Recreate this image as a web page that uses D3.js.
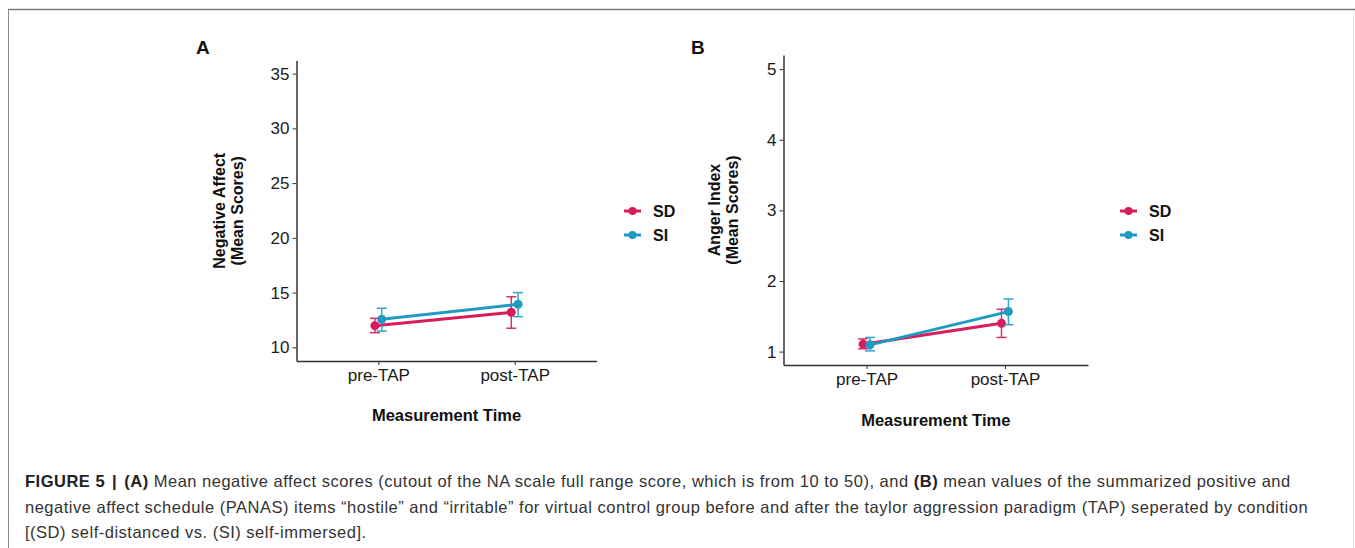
<!DOCTYPE html>
<html>
<head>
<meta charset="utf-8">
<script src="https://cdn.jsdelivr.net/npm/d3@7"></script>
<style>
  body { margin: 0; background: #fff; }
  svg { font-family: "Liberation Sans", Arial, sans-serif; }
  .axis path, .axis line { stroke: #333; }
  .axis text { fill: #1a1a1a; font-size: 17px; }
</style>
</head>
<body>
<svg id="fig" width="1355" height="548"></svg>
<script>
// categories
var timePoints = ["pre-TAP", "post-TAP"];
var conditions = ["SD", "SI"];

// Panel A: negative affect (mean, lower, upper)
var naMeanSD = [11.98, 13.2];
var naLowSD = [11.34, 11.74];
var naHighSD = [12.65, 14.62];
var naMeanSI = [12.56, 13.93];
var naLowSI = [11.49, 12.8];
var naHighSI = [13.57, 15.0];
var naTicks = [10, 15, 20, 25, 30, 35];

// Panel B: anger index (mean, lower, upper)
var angerMeanSD = [1.105, 1.40];
var angerLowSD = [1.04, 1.20];
var angerHighSD = [1.18, 1.60];
var angerMeanSI = [1.095, 1.566];
var angerLowSI = [1.01, 1.38];
var angerHighSI = [1.20, 1.745];
var angerTicks = [1, 2, 3, 4, 5];

var colors = {SD: "#d81b5d", SI: "#1e9bc0"};

var svg = d3.select("#fig");

// figure frame
svg.append("line").attr("x1", 8).attr("x2", 1355).attr("y1", 9.5).attr("y2", 9.5)
    .attr("stroke", "#7a7a7a").attr("stroke-width", 1.5);
svg.append("line").attr("x1", 8.5).attr("x2", 8.5).attr("y1", 9).attr("y2", 548)
    .attr("stroke", "#8a8a8a").attr("stroke-width", 1);
svg.append("line").attr("x1", 1353.5).attr("x2", 1353.5).attr("y1", 10).attr("y2", 548)
    .attr("stroke", "#e2e2e2").attr("stroke-width", 1);

function drawPanel(p) {
    var g = svg.append("g");

    var x = d3.scalePoint().domain(timePoints).range([p.left, p.right]).padding(0.6);
    var y = d3.scaleLinear().domain(p.domain).range([p.bottom, p.top]);
    var dodge = x.step() * 0.025;

    g.append("g").attr("class", "axis")
        .attr("transform", "translate(" + p.left + ",0)")
        .call(d3.axisLeft(y).tickValues(p.ticks).tickFormat(d3.format("d"))
            .tickSize(4).tickSizeOuter(0).tickPadding(3))
        .selectAll("path").attr("stroke-width", 1.5);

    g.append("g").attr("class", "axis")
        .attr("transform", "translate(0," + p.bottom + ")")
        .call(d3.axisBottom(x).tickSize(4).tickSizeOuter(0).tickPadding(4))
        .selectAll("path").attr("stroke-width", 1.5);

    g.selectAll(".axis line").attr("stroke", "#444");

    // axis titles
    g.append("text")
        .attr("x", (p.left + p.right) / 2).attr("y", p.xTitleY)
        .attr("text-anchor", "middle").attr("font-size", 16.5).attr("font-weight", "bold")
        .attr("fill", "#111").text("Measurement Time");

    var yt = g.append("text")
        .attr("transform", "translate(" + p.yTitleX + "," + ((p.top + p.bottom) / 2) + ") rotate(-90)")
        .attr("text-anchor", "middle").attr("font-size", 16).attr("font-weight", "bold").attr("fill", "#111");
    yt.append("tspan").attr("x", 0).attr("dy", 0).text(p.yTitle);
    yt.append("tspan").attr("x", 0).attr("dy", 17.5).text("(Mean Scores)");

    // panel letter
    g.append("text").attr("x", p.letterX).attr("y", 54)
        .attr("font-size", 19).attr("font-weight", "bold").attr("fill", "#111").text(p.letter);

    p.series.forEach(function(s, k) {
        var off = k === 0 ? -dodge : dodge;
        var pts = timePoints.map(function(t, i) {
            return {x: x(t) + off, m: s.mean[i], lo: s.low[i], hi: s.high[i]};
        });
        var col = colors[s.name];

        g.append("path").datum(pts)
            .attr("fill", "none").attr("stroke", col).attr("stroke-width", 3)
            .attr("d", d3.line().x(function(d){ return d.x; }).y(function(d){ return y(d.m); }));

        var eb = g.selectAll(null).data(pts).enter().append("g")
            .attr("stroke", col).attr("stroke-width", 1.5).attr("opacity", 0.9);
        eb.append("line").attr("x1", function(d){ return d.x; }).attr("x2", function(d){ return d.x; })
            .attr("y1", function(d){ return y(d.lo); }).attr("y2", function(d){ return y(d.hi); });
        eb.append("line").attr("x1", function(d){ return d.x - 5; }).attr("x2", function(d){ return d.x + 5; })
            .attr("y1", function(d){ return y(d.lo); }).attr("y2", function(d){ return y(d.lo); });
        eb.append("line").attr("x1", function(d){ return d.x - 5; }).attr("x2", function(d){ return d.x + 5; })
            .attr("y1", function(d){ return y(d.hi); }).attr("y2", function(d){ return y(d.hi); });

        g.selectAll(null).data(pts).enter().append("circle")
            .attr("cx", function(d){ return d.x; }).attr("cy", function(d){ return y(d.m); })
            .attr("r", 4.5).attr("fill", col);
    });

    // legend
    conditions.forEach(function(c, i) {
        var ly = p.legendY + i * 24;
        g.append("line").attr("x1", p.legendX).attr("x2", p.legendX + 17)
            .attr("y1", ly).attr("y2", ly).attr("stroke", colors[c]).attr("stroke-width", 3);
        g.append("circle").attr("cx", p.legendX + 8.5).attr("cy", ly).attr("r", 4).attr("fill", colors[c]);
        g.append("text").attr("x", p.legendX + 29).attr("y", ly + 6)
            .attr("font-size", 16).attr("font-weight", "bold").attr("fill", "#111").text(c);
    });
}

drawPanel({
    letter: "A", letterX: 196,
    left: 296.5, right: 596.5, top: 60.5, bottom: 361,
    domain: [8.75, 36.2], ticks: naTicks,
    yTitle: "Negative Affect", yTitleX: 225, xTitleY: 421,
    legendX: 624, legendY: 211,
    series: [
        {name: "SD", mean: naMeanSD, low: naLowSD, high: naHighSD},
        {name: "SI", mean: naMeanSI, low: naLowSI, high: naHighSI}
    ]
});

drawPanel({
    letter: "B", letterX: 691,
    left: 783.5, right: 1088, top: 55, bottom: 365,
    domain: [0.81, 5.2], ticks: angerTicks,
    yTitle: "Anger Index", yTitleX: 720, xTitleY: 426,
    legendX: 1120, legendY: 211,
    series: [
        {name: "SD", mean: angerMeanSD, low: angerLowSD, high: angerHighSD},
        {name: "SI", mean: angerMeanSI, low: angerLowSI, high: angerHighSI}
    ]
});

// caption
var cap = svg.append("text").attr("font-size", 16.5).attr("letter-spacing", 0.5).attr("fill", "#333");
var l1 = cap.append("tspan").attr("x", 25).attr("y", 487);
l1.append("tspan").attr("font-weight", "bold").attr("fill", "#222").text("FIGURE 5");
l1.append("tspan").attr("font-weight", "bold").attr("fill", "#222").attr("dx", 7).text("|");
l1.append("tspan").attr("font-weight", "bold").attr("fill", "#222").attr("dx", 7).text("(A)");
l1.append("tspan").text(" Mean negative affect scores (cutout of the NA scale full range score, which is from 10 to 50), and ");
l1.append("tspan").attr("font-weight", "bold").attr("fill", "#222").text("(B)");
l1.append("tspan").text(" mean values of the summarized positive and");
cap.append("tspan").attr("x", 25).attr("y", 513)
    .text("negative affect schedule (PANAS) items \u201chostile\u201d and \u201cirritable\u201d for virtual control group before and after the taylor aggression paradigm (TAP) seperated by condition");
cap.append("tspan").attr("x", 25).attr("y", 538)
    .text("[(SD) self-distanced vs. (SI) self-immersed].");
</script>
</body>
</html>
